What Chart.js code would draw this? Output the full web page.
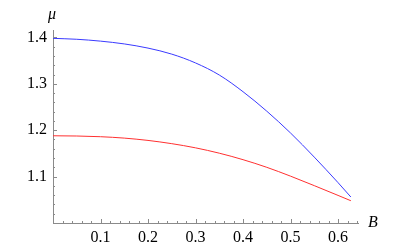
<!DOCTYPE html>
<html>
<head>
<meta charset="utf-8">
<script src="https://cdn.jsdelivr.net/npm/chart.js@4"></script>
<style>
  html, body { margin: 0; padding: 0; background: #fff; }
  #wrap { width: 405px; height: 250px; }
</style>
</head>
<body>
<div id="wrap"><canvas id="muChart" width="405" height="250"></canvas></div>
<script>
// -------------------------------
// Data
// -------------------------------
const bValues  = [0, 0.05, 0.1, 0.15, 0.2, 0.25, 0.3, 0.35, 0.4, 0.45, 0.5, 0.55, 0.6, 0.627];
const muBlue   = [1.398, 1.396, 1.392, 1.386, 1.377, 1.364, 1.345, 1.319, 1.283, 1.241, 1.194, 1.142, 1.087, 1.056];
const muRed    = [1.188, 1.1875, 1.186, 1.183, 1.178, 1.171, 1.162, 1.1505, 1.1365, 1.120, 1.101, 1.0805, 1.0595, 1.048];
const xTickLabels = ['0.1', '0.2', '0.3', '0.4', '0.5', '0.6'];
const yTickLabels = ['1.1', '1.2', '1.3', '1.4'];

const axisGray = '#8a8a8a';
const labelFont = { family: '"Liberation Serif", "DejaVu Serif", serif', size: 16 };

function toPoints(ys) {
    return bValues.map((b, i) => ({ x: b, y: ys[i] }));
}

function isStep(v, step) {
    const r = v / step;
    return Math.abs(r - Math.round(r)) < 1e-6;
}

function labelFor(list) {
    return function (value) {
        if (!isStep(value, 0.1)) return '';
        const s = value.toFixed(1);
        return list.includes(s) ? s : '';
    };
}

// -------------------------------
// Inward Mathematica-style ticks + axis names
// -------------------------------
const mathematicaAxes = {
    id: 'mathematicaAxes',
    afterDraw(chart) {
        const { ctx, chartArea, scales } = chart;
        ctx.save();
        ctx.strokeStyle = axisGray;
        ctx.lineWidth = 1;
        ctx.beginPath();
        scales.x.ticks.forEach(t => {
            if (!isStep(t.value, 0.02) || t.value === 0) return;
            const px = Math.round(scales.x.getPixelForValue(t.value)) + 0.5;
            const len = isStep(t.value, 0.1) ? 4 : 2;
            ctx.moveTo(px, chartArea.bottom);
            ctx.lineTo(px, chartArea.bottom - len);
        });
        scales.y.ticks.forEach(t => {
            if (!isStep(t.value, 0.02) || Math.abs(t.value - 1) < 1e-6) return;
            const py = Math.round(scales.y.getPixelForValue(t.value)) + 0.5;
            const len = isStep(t.value, 0.1) ? 4 : 2;
            ctx.moveTo(chartArea.left, py);
            ctx.lineTo(chartArea.left + len, py);
        });
        ctx.stroke();

        ctx.fillStyle = '#000';
        ctx.font = 'italic 16px "Liberation Serif", serif';
        ctx.textAlign = 'center';
        ctx.textBaseline = 'middle';
        ctx.fillText('\u03BC', chartArea.left - 1, chartArea.top - 15);
        ctx.fillText('B', chartArea.right + 15, chartArea.bottom);
        ctx.restore();
    }
};

const ctx = document.getElementById('muChart').getContext('2d');

new Chart(ctx, {
    type: 'line',
    data: {
        datasets: [
            {
                data: toPoints(muBlue),
                borderColor: '#3a3aff',
                borderWidth: 1,
                pointRadius: 0,
                cubicInterpolationMode: 'monotone'
            },
            {
                data: toPoints(muRed),
                borderColor: '#ff3030',
                borderWidth: 1,
                pointRadius: 0,
                cubicInterpolationMode: 'monotone'
            }
        ]
    },
    options: {
        responsive: false,
        animation: false,
        devicePixelRatio: 1,
        layout: { padding: { top: 30, right: 47, left: 0, bottom: 0 } },
        plugins: { legend: { display: false }, tooltip: { enabled: false } },
        scales: {
            x: {
                type: 'linear',
                min: 0,
                max: 0.642,
                afterFit(scale) { scale.height = 27; },
                border: { display: true, color: axisGray, width: 1 },
                grid: { display: true, drawOnChartArea: false, drawTicks: false },
                ticks: {
                    stepSize: 0.02,
                    includeBounds: false,
                    autoSkip: false,
                    maxRotation: 0,
                    padding: 5,
                    color: '#000',
                    font: labelFont,
                    callback: labelFor(xTickLabels)
                }
            },
            y: {
                type: 'linear',
                min: 1.0,
                max: 1.416,
                afterFit(scale) { scale.width = 53; },
                border: { display: true, color: axisGray, width: 1 },
                grid: { display: true, drawOnChartArea: false, drawTicks: false },
                ticks: {
                    stepSize: 0.02,
                    includeBounds: false,
                    autoSkip: false,
                    padding: 6,
                    color: '#000',
                    font: labelFont,
                    callback: labelFor(yTickLabels)
                }
            }
        }
    },
    plugins: [mathematicaAxes]
});
</script>
</body>
</html>
